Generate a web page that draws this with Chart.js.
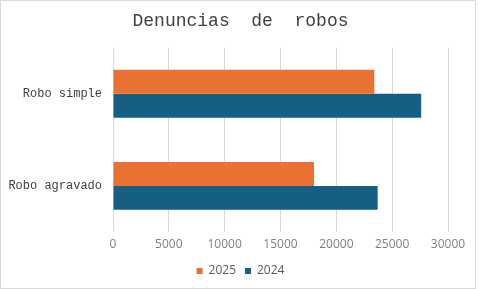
<!DOCTYPE html>
<html>
<head>
<meta charset="utf-8">
<script src="https://cdn.jsdelivr.net/npm/chart.js@4"></script>
<style>
  html, body { margin: 0; padding: 0; background: #fff; }
  #box { position: relative; width: 481px; height: 289px; }
  #box canvas { position: absolute; left: 0; top: 0; }
  #frame { position: absolute; left: 0; top: 0; width: 474px; height: 287px; border: 1px solid #d9d9d9; pointer-events: none; }
</style>
</head>
<body>
<div id="box">
  <canvas id="myChart" width="481" height="289"></canvas>
  <div id="frame"></div>
</div>
<script>
// data
const categories = ["Robo simple", "Robo agravado"];
const seriesNames = ["2025", "2024"];
const values2025 = [23400, 18000];
const values2024 = [27600, 23700];
const xMin = 0;
const xMax = 30000;
const xStep = 5000;

const orange = "#E97132";
const blue = "#156082";

new Chart(document.getElementById("myChart"), {
  type: "bar",
  data: {
    labels: categories,
    datasets: [
      { label: seriesNames[0], data: values2025, backgroundColor: orange },
      { label: seriesNames[1], data: values2024, backgroundColor: blue },
    ],
  },
  options: {
    indexAxis: "y",
    responsive: false,
    animation: false,
    devicePixelRatio: 1,
    layout: { padding: { left: 0, right: 0, top: 0, bottom: 2 } },
    datasets: {
      bar: { categoryPercentage: 0.52, barPercentage: 1 },
    },
    plugins: {
      title: {
        display: true,
        text: "Denuncias  de  robos",
        color: "#404040",
        font: { family: "'Liberation Mono', monospace", size: 18, weight: "normal" },
        padding: { top: 10, bottom: 16 },
      },
      legend: {
        position: "bottom",
        labels: {
          boxWidth: 6,
          boxHeight: 6,
          padding: 9,
          color: "#595959",
          font: { family: "'Open Sans', sans-serif", size: 12 },
        },
      },
      tooltip: { enabled: false },
    },
    scales: {
      x: {
        min: xMin,
        max: xMax,
        ticks: {
          stepSize: xStep,
          color: "#808080",
          padding: 5,
          font: { family: "'Open Sans', sans-serif", size: 12 },
          callback: (v) => String(v),
        },
        grid: { color: "#d9d9d9", drawTicks: false },
        border: { display: false },
        afterFit: (scale) => { scale.height = 24; scale.paddingRight = 33; },
      },
      y: {
        ticks: {
          color: "#404040",
          padding: 3,
          font: { family: "'Liberation Mono', monospace", size: 12 },
        },
        grid: { display: false },
        border: { display: false },
        afterFit: (scale) => { scale.width = 113; },
      },
    },
  },
});
</script>
</body>
</html>
